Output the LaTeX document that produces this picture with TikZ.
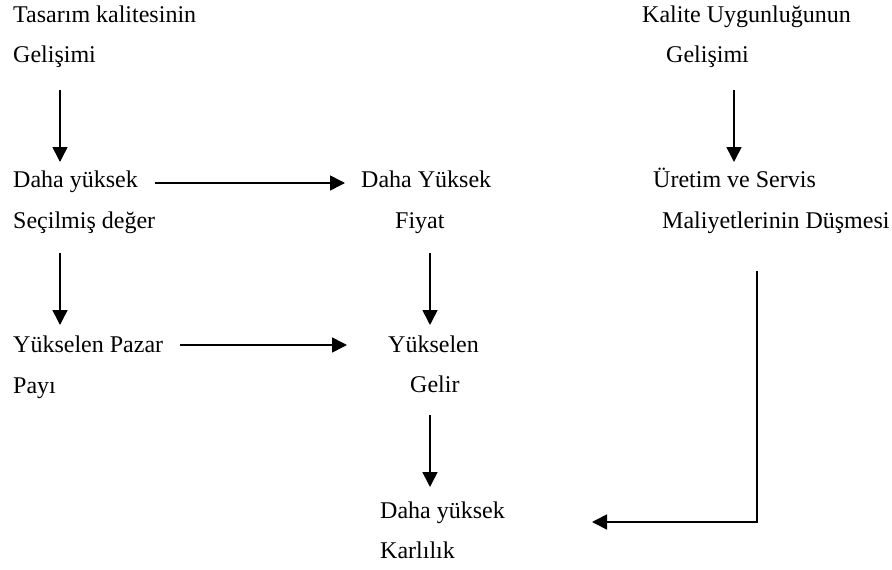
\documentclass[tikz,border=0pt]{standalone}
\usepackage{fontspec}
\setmainfont{Liberation Serif}
\usetikzlibrary{arrows.meta}
\tikzset{
  txt/.style={anchor=base west, inner sep=0pt, font=\fontsize{24}{28}\selectfont},
  flow/.style={line width=1.6pt, -{Triangle[length=15pt,width=15pt]}}
}
\begin{document}
\begin{tikzpicture}[x=1pt,y=-1pt]
\useasboundingbox (0,0) rectangle (892,570);

% left column
\node[txt] (tk1) at (13,22)  {Tasarım kalitesinin};
\node[txt] (tk2) at (13,62)  {Gelişimi};
\node[txt] (dy1) at (13,187) {Daha yüksek};
\node[txt] (dy2) at (13,228) {Seçilmiş değer};
\node[txt] (yp1) at (13,352) {Yükselen Pazar};
\node[txt] (yp2) at (13,393) {Payı};

% middle column
\node[txt] (df1) at (361,187) {Daha Yüksek};
\node[txt] (df2) at (395,228) {Fiyat};
\node[txt] (yg1) at (388,352) {Yükselen};
\node[txt] (yg2) at (410,392) {Gelir};
\node[txt] (dk1) at (380,518) {Daha yüksek};
\node[txt] (dk2) at (380,558) {Karlılık};

% right column
\node[txt] (ku1) at (642,22)  {Kalite Uygunluğunun};
\node[txt] (ku2) at (666,62)  {Gelişimi};
\node[txt] (us1) at (653,187) {Üretim ve Servis};
\node[txt] (us2) at (662,228) {Maliyetlerinin Düşmesi};

% arrow end points
\coordinate (a1s) at (60,90);   \coordinate (a1e) at (60,162);
\coordinate (a2s) at (60,253);  \coordinate (a2e) at (60,325);
\coordinate (a3s) at (430,253); \coordinate (a3e) at (430,325);
\coordinate (a4s) at (430,415); \coordinate (a4e) at (430,487);
\coordinate (a5s) at (734,90);  \coordinate (a5e) at (734,162);
\coordinate (h1s) at (155,183); \coordinate (h1e) at (345,183);
\coordinate (h2s) at (180,345); \coordinate (h2e) at (347,345);
\coordinate (b1s) at (757,271); \coordinate (b1c) at (757,522);
\coordinate (b1e) at (592,522);

% connectors
\draw[flow] (a1s) -- (a1e);
\draw[flow] (a2s) -- (a2e);
\draw[flow] (a3s) -- (a3e);
\draw[flow] (a4s) -- (a4e);
\draw[flow] (a5s) -- (a5e);
\draw[flow] (h1s) -- (h1e);
\draw[flow] (h2s) -- (h2e);
\draw[flow] (b1s) -- (b1c) -- (b1e);
\end{tikzpicture}
\end{document}
